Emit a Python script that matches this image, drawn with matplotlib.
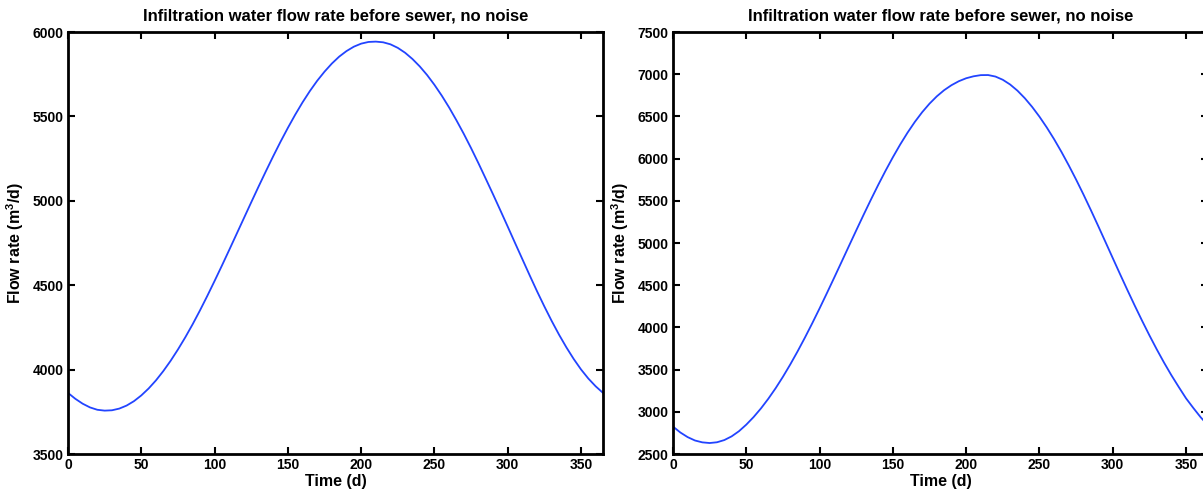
import matplotlib
matplotlib.use('Agg')
import matplotlib.pyplot as plt

plt.rcParams['font.family'] = ['Liberation Sans', 'DejaVu Sans']
plt.rcParams['font.weight'] = 'bold'
plt.rcParams['mathtext.fontset'] = 'custom'
plt.rcParams['mathtext.rm'] = 'Liberation Sans:bold'
plt.rcParams['mathtext.bf'] = 'Liberation Sans:bold'

# days of the year, every 5 days
days = list(range(0, 366, 5))

# left panel flow rate (m3/d)
flow_left = [3862, 3827, 3798, 3776, 3762, 3757, 3759, 3769, 3787, 3813,
             3847, 3888, 3936, 3991, 4052, 4119, 4191, 4268, 4350, 4436,
             4525, 4616, 4709, 4803, 4897, 4991, 5084, 5175, 5264, 5350,
             5432, 5510, 5583, 5650, 5711, 5765, 5813, 5854, 5887, 5913,
             5931, 5941, 5943, 5939, 5927, 5906, 5877, 5840, 5796, 5745,
             5687, 5623, 5553, 5477, 5397, 5312, 5223, 5131, 5038, 4943,
             4847, 4750, 4654, 4558, 4464, 4374, 4288, 4207, 4132, 4063,
             4001, 3947, 3901, 3862]

# right panel flow rate (m3/d)
flow_right = [2825, 2755, 2700, 2660, 2638, 2630, 2639, 2665, 2709, 2770,
              2848, 2938, 3040, 3154, 3279, 3415, 3561, 3716, 3879, 4049,
              4225, 4406, 4590, 4776, 4963, 5149, 5333, 5513, 5688, 5856,
              6016, 6167, 6307, 6435, 6550, 6651, 6738, 6811, 6870, 6917,
              6952, 6975, 6989, 6990, 6972, 6934, 6878, 6805, 6716, 6613,
              6497, 6369, 6230, 6080, 5920, 5752, 5576, 5393, 5205, 5014,
              4822, 4631, 4443, 4259, 4080, 3907, 3741, 3583, 3434, 3295,
              3160, 3045, 2935, 2840]

title = 'Infiltration water flow rate before sewer, no noise'
line_color = '#2244ff'

fig = plt.figure(figsize=(12.03, 4.94), dpi=100)
ax1 = fig.add_axes([68 / 1203, 40 / 494, 535 / 1203, 422 / 494])
ax2 = fig.add_axes([673 / 1203, 40 / 494, 535 / 1203, 422 / 494])

panels = [(ax1, flow_left, (3500, 6000)), (ax2, flow_right, (2500, 7500))]
for ax, flow, ylim in panels:
    ax.plot(days, flow, color=line_color, lw=1.3)
    ax.set_xlim(0, 365)
    ax.set_ylim(*ylim)
    ax.set_xticks(range(0, 351, 50))
    ax.set_yticks(range(ylim[0], ylim[1] + 1, 500))
    ax.tick_params(direction='in', top=True, right=True, length=5, width=1.5,
                   labelsize=10, pad=3)
    for lab in ax.get_xticklabels() + ax.get_yticklabels():
        lab.set_fontweight('bold')
    for sp in ax.spines.values():
        sp.set_linewidth(2)
    ax.set_title(title, fontsize=12, fontweight='bold', pad=8)
    ax.set_xlabel('Time (d)', fontsize=11.5, fontweight='bold', labelpad=1)
    ax.set_ylabel('Flow rate (m$^3$/d)', fontsize=11.5, fontweight='bold', labelpad=5)

fig.savefig('out.png', dpi=100)
